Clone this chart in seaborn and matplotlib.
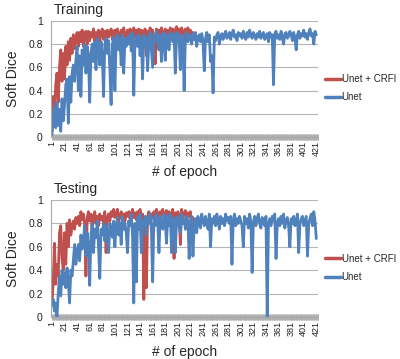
import numpy as np
import pandas as pd
import matplotlib
matplotlib.use("Agg")
import matplotlib.pyplot as plt
from matplotlib.ticker import FixedLocator
import seaborn as sns

# epochs sampled every 2 epochs
epochs_crfi = list(range(1, 226, 2))
epochs_unet = list(range(1, 422, 2))

train_crfi = [
    0.05, 0.35, 0.20, 0.45, 0.55, 0.30, 0.60, 0.75, 0.48, 0.72,
    0.50, 0.78, 0.62, 0.82, 0.66, 0.85, 0.72, 0.88, 0.76, 0.86,
    0.90, 0.78, 0.90, 0.82, 0.92, 0.78, 0.88, 0.91, 0.80, 0.91,
    0.83, 0.90, 0.86, 0.93, 0.80, 0.90, 0.85, 0.92, 0.82, 0.90,
    0.93, 0.84, 0.91, 0.82, 0.92, 0.86, 0.90, 0.93, 0.84, 0.91,
    0.92, 0.85, 0.93, 0.88, 0.84, 0.92, 0.86, 0.94, 0.87, 0.85,
    0.92, 0.87, 0.93, 0.85, 0.91, 0.94, 0.86, 0.92, 0.87, 0.93,
    0.86, 0.92, 0.75, 0.90, 0.93, 0.70, 0.91, 0.86, 0.94, 0.80,
    0.92, 0.86, 0.63, 0.93, 0.88, 0.92, 0.86, 0.94, 0.89, 0.86,
    0.93, 0.88, 0.92, 0.87, 0.94, 0.89, 0.93, 0.88, 0.92, 0.95,
    0.89, 0.93, 0.88, 0.94, 0.90, 0.87, 0.93, 0.89, 0.94, 0.88,
    0.92, 0.87, 0.90,
]

train_unet = [
    0.02, 0.18, 0.26, 0.08, 0.30, 0.10, 0.24, 0.05, 0.33, 0.14,
    0.28, 0.45, 0.50, 0.12, 0.52, 0.30, 0.55, 0.62, 0.48, 0.66,
    0.78, 0.40, 0.70, 0.35, 0.75, 0.62, 0.80, 0.55, 0.78, 0.70,
    0.30, 0.72, 0.80, 0.65, 0.82, 0.58, 0.85, 0.76, 0.62, 0.82,
    0.70, 0.35, 0.80, 0.85, 0.72, 0.83, 0.58, 0.28, 0.80, 0.86,
    0.40, 0.82, 0.88, 0.75, 0.85, 0.62, 0.88, 0.55, 0.84, 0.78,
    0.86, 0.80, 0.88, 0.74, 0.90, 0.36, 0.82, 0.87, 0.78, 0.88,
    0.70, 0.85, 0.50, 0.88, 0.80, 0.86, 0.57, 0.82, 0.90, 0.75,
    0.60, 0.88, 0.82, 0.91, 0.85, 0.75, 0.88, 0.65, 0.86, 0.90,
    0.66, 0.88, 0.85, 0.75, 0.90, 0.86, 0.82, 0.89, 0.55, 0.87,
    0.90, 0.85, 0.58, 0.88, 0.84, 0.40, 0.86, 0.90, 0.82, 0.88,
    0.86, 0.80, 0.89, 0.84, 0.90, 0.78, 0.86, 0.88, 0.82, 0.89,
    0.82, 0.57, 0.85, 0.90, 0.82, 0.88, 0.65, 0.70, 0.38, 0.86,
    0.83, 0.88, 0.90, 0.80, 0.86, 0.89, 0.84, 0.88, 0.91, 0.85,
    0.87, 0.90, 0.84, 0.89, 0.92, 0.86, 0.88, 0.83, 0.90, 0.87,
    0.89, 0.85, 0.91, 0.87, 0.84, 0.90, 0.86, 0.92, 0.88, 0.85,
    0.90, 0.87, 0.84, 0.89, 0.86, 0.91, 0.85, 0.88, 0.90, 0.84,
    0.87, 0.89, 0.82, 0.90, 0.86, 0.88, 0.45, 0.89, 0.91, 0.85,
    0.88, 0.84, 0.91, 0.86, 0.80, 0.89, 0.90, 0.85, 0.87, 0.91,
    0.88, 0.83, 0.90, 0.86, 0.75, 0.88, 0.91, 0.85, 0.89, 0.87,
    0.92, 0.86, 0.89, 0.84, 0.90, 0.93, 0.87, 0.89, 0.80, 0.91,
    0.88,
]

test_crfi = [
    0.10, 0.30, 0.63, 0.28, 0.45, 0.35, 0.72, 0.78, 0.50, 0.40,
    0.72, 0.45, 0.80, 0.60, 0.83, 0.70, 0.78, 0.82, 0.75, 0.85,
    0.80, 0.86, 0.78, 0.90, 0.83, 0.88, 0.80, 0.35, 0.85, 0.90,
    0.82, 0.88, 0.75, 0.85, 0.90, 0.80, 0.86, 0.78, 0.88, 0.83,
    0.86, 0.80, 0.90, 0.55, 0.85, 0.88, 0.82, 0.90, 0.86, 0.92,
    0.85, 0.88, 0.92, 0.80, 0.87, 0.90, 0.84, 0.88, 0.82, 0.89,
    0.86, 0.90, 0.84, 0.88, 0.92, 0.85, 0.89, 0.83, 0.90, 0.87,
    0.92, 0.85, 0.88, 0.15, 0.80, 0.25, 0.86, 0.90, 0.84, 0.88,
    0.85, 0.90, 0.86, 0.92, 0.88, 0.84, 0.90, 0.87, 0.92, 0.85,
    0.88, 0.91, 0.86, 0.90, 0.84, 0.88, 0.92, 0.50, 0.89, 0.86,
    0.90, 0.87, 0.62, 0.92, 0.85, 0.88, 0.91, 0.84, 0.89, 0.86,
    0.90, 0.62, 0.85,
]

test_unet = [
    0.10, 0.15, 0.05, 0.12, 0.00, 0.20, 0.35, 0.18, 0.40, 0.28,
    0.38, 0.25, 0.42, 0.30, 0.12, 0.40, 0.35, 0.48, 0.62, 0.45,
    0.55, 0.62, 0.48, 0.70, 0.58, 0.65, 0.78, 0.52, 0.72, 0.60,
    0.27, 0.70, 0.80, 0.55, 0.75, 0.68, 0.82, 0.60, 0.33, 0.75,
    0.70, 0.80, 0.65, 0.78, 0.72, 0.55, 0.80, 0.75, 0.68, 0.82,
    0.60, 0.78, 0.85, 0.70, 0.80, 0.62, 0.86, 0.75, 0.80, 0.72,
    0.55, 0.82, 0.78, 0.88, 0.70, 0.12, 0.80, 0.30, 0.85, 0.75,
    0.88, 0.55, 0.82, 0.78, 0.86, 0.70, 0.85, 0.80, 0.88, 0.75,
    0.30, 0.85, 0.78, 0.88, 0.82, 0.55, 0.86, 0.80, 0.75, 0.88,
    0.82, 0.63, 0.86, 0.78, 0.88, 0.55, 0.80, 0.85, 0.55, 0.82,
    0.86, 0.78, 0.72, 0.88, 0.80, 0.84, 0.75, 0.86, 0.82, 0.50,
    0.80, 0.86, 0.52, 0.78, 0.84, 0.72, 0.86, 0.80, 0.76, 0.88,
    0.82, 0.78, 0.86, 0.80, 0.75, 0.88, 0.60, 0.84, 0.80, 0.86,
    0.78, 0.88, 0.82, 0.75, 0.86, 0.80, 0.84, 0.78, 0.88, 0.82,
    0.85, 0.80, 0.86, 0.45, 0.82, 0.88, 0.78, 0.84, 0.80, 0.86,
    0.82, 0.78, 0.60, 0.86, 0.80, 0.84, 0.76, 0.88, 0.82, 0.38,
    0.80, 0.86, 0.78, 0.84, 0.88, 0.80, 0.76, 0.85, 0.82, 0.78,
    0.86, 0.00, 0.80, 0.84, 0.78, 0.86, 0.82, 0.88, 0.50, 0.80,
    0.84, 0.78, 0.86, 0.80, 0.88, 0.76, 0.82, 0.85, 0.78, 0.60,
    0.84, 0.80, 0.86, 0.78, 0.82, 0.88, 0.55, 0.80, 0.84, 0.86,
    0.78, 0.82, 0.86, 0.52, 0.80, 0.84, 0.88, 0.78, 0.90, 0.82,
    0.67,
]

series_names = ["Unet + CRFI", "Unet"]
colors = ["#C0504D", "#4F81BD"]
panel_titles = ["Training", "Testing"]
xtick_labels = list(range(1, 422, 20))
yticks = [0, 0.2, 0.4, 0.6, 0.8, 1]

sns.set_style("white")
plt.rcParams["font.family"] = ["Liberation Sans", "DejaVu Sans"]

fig = plt.figure(figsize=(4.0, 3.59), dpi=100)
ax1 = fig.add_axes([0.1275, 0.618, 0.668, 0.324])
ax2 = fig.add_axes([0.1275, 0.117, 0.668, 0.326])

panels = [(ax1, train_crfi, train_unet), (ax2, test_crfi, test_unet)]
for (ax, crfi, unet), title in zip(panels, panel_titles):
    df = pd.concat([
        pd.DataFrame({"epoch": epochs_crfi, "dice": crfi, "model": series_names[0]}),
        pd.DataFrame({"epoch": epochs_unet, "dice": unet, "model": series_names[1]}),
    ], ignore_index=True)
    sns.lineplot(data=df, x="epoch", y="dice", hue="model", palette=colors,
                 hue_order=series_names, linewidth=2.0, ax=ax, legend=True,
                 estimator=None, sort=False)
    ax.set_xlim(-0.5, 424)
    ax.set_ylim(0, 1)
    ax.set_yticks(yticks)
    ax.set_yticklabels(["0", "0.2", "0.4", "0.6", "0.8", "1"], fontsize=7.5, color="#222222")
    ax.yaxis.grid(True, color="#B5B5B5", linewidth=0.8)
    ax.set_axisbelow(True)
    ax.set_xticks(xtick_labels)
    ax.set_xticklabels([str(v) for v in xtick_labels], rotation=90, fontsize=6.5, color="#222222")
    ax.xaxis.set_minor_locator(FixedLocator(list(range(1, 425))))
    ax.tick_params(axis="x", which="minor", direction="inout", length=4, width=0.7, color="#B0B0B0", bottom=True)
    ax.tick_params(axis="x", which="major", direction="inout", length=4, width=0.7, color="#B0B0B0", bottom=True, pad=1)
    ax.tick_params(axis="y", length=0, pad=6)
    for s in ["top", "right"]:
        ax.spines[s].set_visible(False)
    ax.spines["left"].set_color("#A8A8A8")
    ax.spines["left"].set_linewidth(0.8)
    ax.spines["bottom"].set_color("#A8A8A8")
    ax.spines["bottom"].set_linewidth(0.8)
    ax.set_xlabel("# of epoch", fontsize=10, labelpad=6)
    ax.set_ylabel("Soft Dice", fontsize=10, labelpad=6)
    ax.text(0.01, 1.03, title, transform=ax.transAxes, fontsize=10, ha="left", va="bottom")
    leg = ax.legend(loc="center left", bbox_to_anchor=(1.0, 0.42), frameon=False,
                    fontsize=7, handlelength=1.6, handletextpad=0.1, labelspacing=0.85,
                    borderaxespad=0.3)
    for line in leg.get_lines():
        line.set_linewidth(2.5)

fig.savefig("out.png", dpi=100)
